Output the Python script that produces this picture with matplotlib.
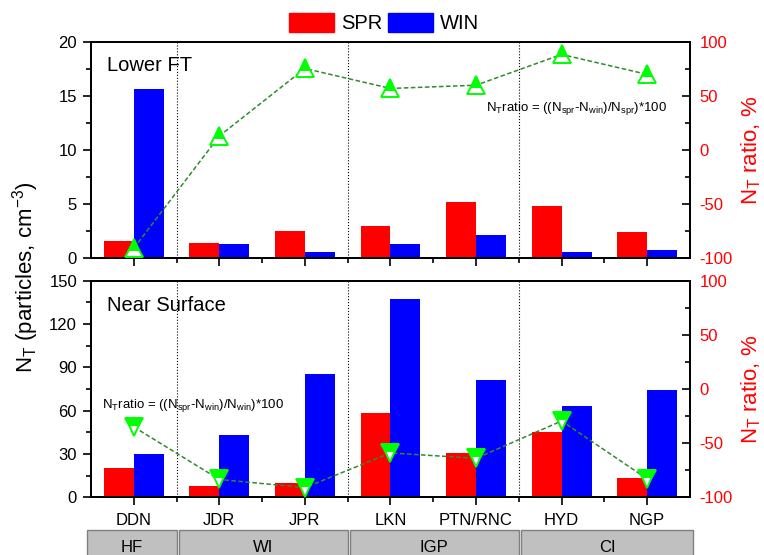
import numpy as np
import matplotlib
matplotlib.use('Agg')
import matplotlib.pyplot as plt
from matplotlib.patches import Rectangle, Patch
import matplotlib.ticker as plticker

plt.rcParams['font.family'] = ['Liberation Sans', 'DejaVu Sans']
plt.rcParams['mathtext.default'] = 'regular'
plt.rcParams['axes.linewidth'] = 1.3
plt.rcParams['axes.unicode_minus'] = False

sites = ['DDN', 'JDR', 'JPR', 'LKN', 'PTN/RNC', 'HYD', 'NGP']

# lower free troposphere
ft_spr = [1.6, 1.42, 2.5, 3.0, 5.15, 4.8, 2.44]
ft_win = [15.65, 1.27, 0.58, 1.3, 2.1, 0.58, 0.74]
ft_ratio = [-91, 13, 75.5, 57, 60, 88.5, 70]

# near surface
ns_spr = [20.0, 7.6, 9.7, 58.6, 30.7, 45.4, 13.1]
ns_win = [30.2, 43.4, 85.6, 137.3, 81.0, 63.0, 74.3]
ns_ratio = [-35, -83.5, -91, -59, -64, -29.5, -83]

groups = ['HF', 'WI', 'IGP', 'CI']
group_span = [(0, 0), (1, 2), (3, 4), (5, 6)]

red = '#FF0000'
blue = '#0000FF'
size = 12


def drawPanel(ax, spr, win, ratio, ymax, ystep, label, formula, fpos, marker):
    x = np.arange(1, len(sites) + 1)
    w = 0.35
    ax.bar(x - w / 2, spr, w, color=red, edgecolor='none')
    ax.bar(x + w / 2, win, w, color=blue, edgecolor='none')
    for g in group_span[1:]:
        ax.axvline(g[0] + 0.5, color='black', ls=':', lw=0.8)
    ax.set_xlim(0.5, len(sites) + 0.5)
    ax.set_ylim(0, ymax)
    ax.yaxis.set_major_locator(plticker.MultipleLocator(ystep))
    ax.yaxis.set_minor_locator(plticker.MultipleLocator(ystep / 2))
    ax.xaxis.set_major_locator(plticker.FixedLocator(x))
    ax.xaxis.set_minor_locator(plticker.FixedLocator(x[:-1] + 0.5))
    ax.tick_params(axis='both', which='major', direction='out', length=6, width=1.2,
                   labelsize=size, pad=4)
    ax.tick_params(axis='both', which='minor', direction='out', length=3.5, width=1.2)
    ax.tick_params(axis='x', which='major', length=5.5, pad=6)
    ax.text(0.027, label[1], label[0], transform=ax.transAxes, fontsize=14.5, va='center')
    ax.text(fpos[0], fpos[1], formula, transform=ax.transAxes, fontsize=9.5, va='baseline')

    ax2 = ax.twinx()
    ax2.plot(x, ratio, color='#2E8B2E', ls=(0, (3, 1.6)), lw=1.1, zorder=2)
    ax2.plot(x, ratio, ls='none', marker=marker, ms=13, mew=1.4, mec='#00FF00',
             mfc='#00FF00', fillstyle='top', markerfacecoloralt='white', zorder=3)
    ax2.set_ylim(-100, 100)
    ax2.yaxis.set_major_locator(plticker.MultipleLocator(50))
    ax2.yaxis.set_minor_locator(plticker.MultipleLocator(25))
    ax2.tick_params(axis='y', which='major', direction='in', length=6, width=1.2,
                    labelsize=size, labelcolor=red, pad=7)
    ax2.tick_params(axis='y', which='minor', direction='in', length=3.5, width=1.2)
    ax2.set_ylabel(r'N$_\mathregular{T}$ ratio, %', color=red, fontsize=16)
    ax2.yaxis.set_label_coords(1.082, 0.5)
    return ax2


fig = plt.figure(figsize=(7.64, 5.55), dpi=100)
ax_top = fig.add_axes([0.1191, 0.5351, 0.784, 0.3892])
ax_bot = fig.add_axes([0.1191, 0.1039, 0.784, 0.3903])

drawPanel(ax_top, ft_spr, ft_win, ft_ratio, 20, 5, ('Lower FT', 0.8935),
          r'N$_{T}$ratio = ((N$_{spr}$-N$_{win}$)/N$_{spr}$)*100', (0.66, 0.682), '^')
drawPanel(ax_bot, ns_spr, ns_win, ns_ratio, 150, 30, ('Near Surface', 0.8855),
          r'N$_{T}$ratio = ((N$_{spr}$-N$_{win}$)/N$_{win}$)*100', (0.018, 0.411), 'v')

ax_top.tick_params(axis='x', labelbottom=False)
ax_bot.set_xticklabels(sites)

fig.text(0.033, 0.50, r'N$_\mathregular{T}$ (particles, cm$^{-3}$)', rotation=90,
         fontsize=16, ha='center', va='center')

# region boxes under the site names
trans = matplotlib.transforms.blended_transform_factory(ax_bot.transData, fig.transFigure)
for i, (name, (lo, hi)) in enumerate(zip(groups, group_span)):
    x0 = lo + 0.525 if i > 0 else 0.45
    x1 = hi + 1.5 if i < len(groups) - 1 else hi + 1.54
    fig.patches.append(Rectangle((x0, -0.02), x1 - x0, 0.065, transform=trans,
                                 facecolor='#C0C0C0', edgecolor='#808080', lw=1))
    fig.text((x0 + x1) / 2, 0.0144, name, transform=trans, fontsize=size,
             ha='center', va='center')

handles = [Patch(color=red), Patch(color=blue)]
fig.legend(handles, ['SPR', 'WIN'], loc='center', bbox_to_anchor=(0.503, 0.9586), ncol=2,
           frameon=False, fontsize=14.5, handlelength=2.24, handleheight=1.08,
           handletextpad=0.33, columnspacing=0.3, borderpad=0)

fig.savefig('out.png', dpi=100)
